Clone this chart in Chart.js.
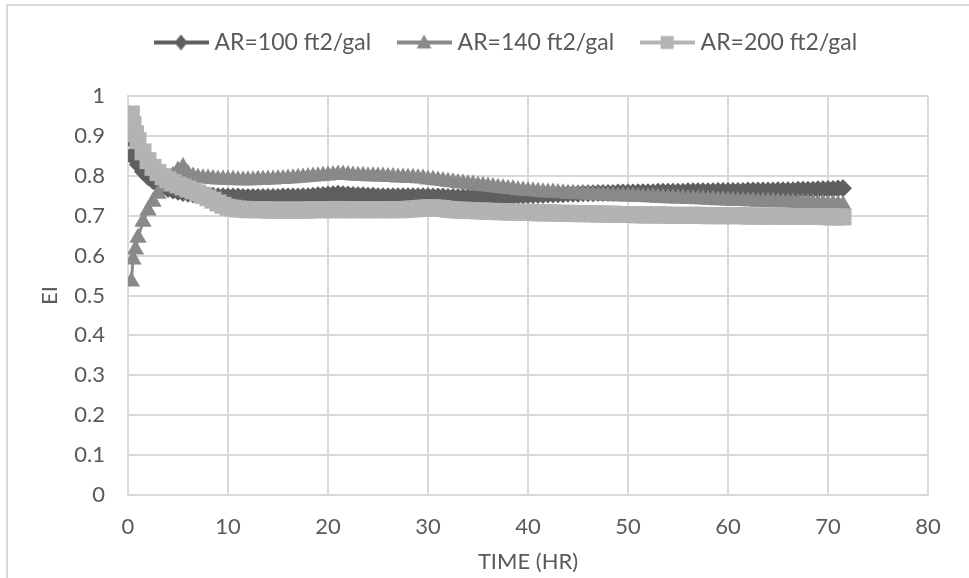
<!DOCTYPE html>
<html>
<head>
<meta charset="utf-8">
<script src="https://cdn.jsdelivr.net/npm/chart.js@4.4.1/dist/chart.umd.min.js"></script>
<style>
  html, body { margin: 0; padding: 0; background: #fff; }
  #wrap { position: relative; width: 969px; height: 578px; overflow: hidden; }
  #frame { position: absolute; left: 6px; top: 4px; width: 1000px; height: 1000px;
           border-left: 2px solid #d9d9d9; border-top: 2px solid #d9d9d9; }
  #box { position: absolute; left: 0; top: 0; width: 969px; height: 578px; }
</style>
</head>
<body>
<div id="wrap">
  <div id="frame"></div>
  <div id="box"><canvas id="ei_chart"></canvas></div>
</div>
<script>
// time in hours (x values shared by the three runs)
var hours = [0.33, 0.5, 0.75,
  1, 1.5, 2, 2.5, 3, 3.5, 4, 4.5, 5, 5.5,
  6, 6.5, 7, 7.5, 8, 8.5, 9, 9.5, 10, 10.5,
  11, 11.5, 12, 12.5, 13, 13.5, 14, 14.5, 15, 15.5,
  16, 16.5, 17, 17.5, 18, 18.5, 19, 19.5, 20, 20.5,
  21, 21.5, 22, 22.5, 23, 23.5, 24, 24.5, 25, 25.5,
  26, 26.5, 27, 27.5, 28, 28.5, 29, 29.5, 30, 30.5,
  31, 31.5, 32, 32.5, 33, 33.5, 34, 34.5, 35, 35.5,
  36, 36.5, 37, 37.5, 38, 38.5, 39, 39.5, 40, 40.5,
  41, 41.5, 42, 42.5, 43, 43.5, 44, 44.5, 45, 45.5,
  46, 46.5, 47, 47.5, 48, 48.5, 49, 49.5, 50, 50.5,
  51, 51.5, 52, 52.5, 53, 53.5, 54, 54.5, 55, 55.5,
  56, 56.5, 57, 57.5, 58, 58.5, 59, 59.5, 60, 60.5,
  61, 61.5, 62, 62.5, 63, 63.5, 64, 64.5, 65, 65.5,
  66, 66.5, 67, 67.5, 68, 68.5, 69, 69.5, 70, 70.5,
  71, 71.5];

var ar100 = [0.89, 0.855, 0.84,
  0.828, 0.81, 0.797, 0.787, 0.778, 0.772, 0.767, 0.763, 0.76, 0.757,
  0.755, 0.754, 0.752, 0.751, 0.75, 0.75, 0.749, 0.749, 0.748, 0.748,
  0.748, 0.747, 0.747, 0.747, 0.747, 0.747, 0.747, 0.747, 0.747, 0.748,
  0.748, 0.748, 0.748, 0.749, 0.749, 0.75, 0.751, 0.752, 0.753, 0.754,
  0.755, 0.754, 0.753, 0.752, 0.751, 0.751, 0.75, 0.75, 0.749, 0.749,
  0.749, 0.749, 0.749, 0.749, 0.749, 0.749, 0.749, 0.749, 0.749, 0.748,
  0.748, 0.748, 0.747, 0.747, 0.746, 0.746, 0.746, 0.746, 0.746, 0.746,
  0.747, 0.747, 0.748, 0.748, 0.749, 0.749, 0.75, 0.75, 0.751, 0.751,
  0.752, 0.752, 0.753, 0.753, 0.754, 0.754, 0.755, 0.755, 0.755, 0.756,
  0.756, 0.756, 0.757, 0.757, 0.757, 0.757, 0.758, 0.758, 0.758, 0.758,
  0.759, 0.759, 0.759, 0.759, 0.76, 0.76, 0.76, 0.76, 0.76, 0.76,
  0.761, 0.761, 0.761, 0.761, 0.761, 0.761, 0.762, 0.762, 0.762, 0.762,
  0.762, 0.762, 0.763, 0.763, 0.763, 0.763, 0.763, 0.763, 0.764, 0.764,
  0.764, 0.764, 0.765, 0.765, 0.765, 0.765, 0.766, 0.766, 0.767, 0.767,
  0.768, 0.769];

var ar140 = [0.535, 0.59, 0.615,
  0.645, 0.685, 0.713, 0.735, 0.755, 0.772, 0.787, 0.8, 0.813, 0.822,
  0.805, 0.798, 0.795, 0.794, 0.793, 0.792, 0.791, 0.791, 0.79, 0.79,
  0.789, 0.789, 0.789, 0.789, 0.79, 0.79, 0.791, 0.791, 0.792, 0.792,
  0.793, 0.794, 0.795, 0.796, 0.797, 0.798, 0.799, 0.8, 0.801, 0.802,
  0.803, 0.803, 0.802, 0.801, 0.8, 0.8, 0.799, 0.799, 0.798, 0.798,
  0.797, 0.797, 0.796, 0.796, 0.795, 0.795, 0.794, 0.793, 0.791, 0.79,
  0.788, 0.787, 0.785, 0.784, 0.782, 0.781, 0.779, 0.778, 0.776, 0.775,
  0.773, 0.772, 0.77, 0.769, 0.767, 0.766, 0.764, 0.763, 0.762, 0.761,
  0.76, 0.759, 0.758, 0.758, 0.757, 0.756, 0.755, 0.755, 0.754, 0.754,
  0.753, 0.752, 0.751, 0.751, 0.75, 0.75, 0.749, 0.749, 0.748, 0.748,
  0.747, 0.747, 0.746, 0.746, 0.745, 0.745, 0.744, 0.744, 0.743, 0.743,
  0.742, 0.742, 0.741, 0.741, 0.74, 0.74, 0.739, 0.739, 0.738, 0.738,
  0.737, 0.737, 0.736, 0.736, 0.735, 0.735, 0.735, 0.735, 0.734, 0.734,
  0.733, 0.733, 0.732, 0.732, 0.731, 0.731, 0.73, 0.73, 0.729, 0.729,
  0.728, 0.727];

var ar200 = [0.955, 0.928, 0.905,
  0.888, 0.86, 0.838, 0.821, 0.808, 0.798, 0.79, 0.783, 0.777, 0.772,
  0.767, 0.762, 0.757, 0.751, 0.745, 0.739, 0.732, 0.726, 0.721, 0.719,
  0.717, 0.716, 0.715, 0.715, 0.715, 0.715, 0.714, 0.714, 0.714, 0.714,
  0.714, 0.714, 0.714, 0.714, 0.714, 0.715, 0.715, 0.715, 0.715, 0.715,
  0.715, 0.715, 0.715, 0.715, 0.715, 0.715, 0.715, 0.715, 0.715, 0.715,
  0.715, 0.715, 0.715, 0.715, 0.716, 0.717, 0.718, 0.719, 0.72, 0.72,
  0.719, 0.718, 0.716, 0.715, 0.714, 0.714, 0.713, 0.713, 0.712, 0.712,
  0.711, 0.711, 0.71, 0.71, 0.709, 0.709, 0.709, 0.709, 0.708, 0.708,
  0.707, 0.707, 0.707, 0.707, 0.706, 0.706, 0.706, 0.706, 0.705, 0.705,
  0.705, 0.705, 0.704, 0.704, 0.704, 0.704, 0.703, 0.703, 0.703, 0.703,
  0.702, 0.702, 0.702, 0.702, 0.702, 0.702, 0.701, 0.701, 0.701, 0.701,
  0.701, 0.701, 0.701, 0.701, 0.7, 0.7, 0.7, 0.7, 0.7, 0.7,
  0.7, 0.7, 0.699, 0.699, 0.699, 0.699, 0.699, 0.699, 0.699, 0.699,
  0.698, 0.698, 0.698, 0.698, 0.698, 0.698, 0.698, 0.698, 0.697, 0.697,
  0.697, 0.697];

var seriesNames = ['AR=100 ft2/gal', 'AR=140 ft2/gal', 'AR=200 ft2/gal'];
var xTicks = [0, 10, 20, 30, 40, 50, 60, 70, 80];
var yTicks = [0, 0.1, 0.2, 0.3, 0.4, 0.5, 0.6, 0.7, 0.8, 0.9, 1];

var FONT = 'Lato';
var TEXT = '#595959';
var GRID = '#d9d9d9';

function toPoints(ys) {
  return hours.map(function (h, i) { return { x: h, y: ys[i] }; });
}

// excel style legend key: a short line with the marker in the middle
function legendKey(color, shape) {
  var c = document.createElement('canvas');
  c.width = 55; c.height = 20;
  var g = c.getContext('2d');
  g.strokeStyle = color; g.fillStyle = color; g.lineWidth = 4;
  g.beginPath(); g.moveTo(0, 10); g.lineTo(55, 10); g.stroke();
  g.beginPath();
  if (shape === 'diamond') {
    g.moveTo(27.5, 2); g.lineTo(34, 10); g.lineTo(27.5, 18); g.lineTo(21, 10);
  } else if (shape === 'triangle') {
    g.moveTo(27.5, 2); g.lineTo(35, 16); g.lineTo(20, 16);
  } else {
    g.rect(21, 3.5, 13, 13);
  }
  g.closePath(); g.fill();
  return c;
}

// extra space under the legend, like the excel layout
var legendGap = {
  id: 'legendGap',
  beforeInit: function (chart) {
    var fit = chart.legend.fit;
    chart.legend.fit = function () {
      fit.call(this);
      this.height += 32;
    };
  }
};

var ctx = document.getElementById('ei_chart').getContext('2d');
var chart = new Chart(ctx, {
  type: 'scatter',
  data: {
    datasets: [{
      label: seriesNames[0],
      data: toPoints(ar100),
      showLine: true,
      borderColor: '#5f5f5f',
      backgroundColor: '#5f5f5f',
      borderWidth: 3,
      pointStyle: 'rectRot',
      pointRadius: 9,
      pointBorderWidth: 0,
      legendKey: legendKey('#5f5f5f', 'diamond'),
      order: 3
    }, {
      label: seriesNames[1],
      data: toPoints(ar140),
      showLine: true,
      borderColor: '#898989',
      backgroundColor: '#898989',
      borderWidth: 3,
      pointStyle: 'triangle',
      pointRadius: 10,
      pointBorderWidth: 0,
      legendKey: legendKey('#898989', 'triangle'),
      order: 2
    }, {
      label: seriesNames[2],
      data: toPoints(ar200),
      showLine: true,
      borderColor: '#b3b3b3',
      backgroundColor: '#b3b3b3',
      borderWidth: 3,
      pointStyle: 'rect',
      pointRadius: 12,
      pointBorderWidth: 0,
      legendKey: legendKey('#b3b3b3', 'square'),
      order: 1
    }]
  },
  options: {
    responsive: true,
    maintainAspectRatio: false,
    animation: false,
    layout: { padding: { top: 0, left: 0, right: 41, bottom: 0 } },
    plugins: {
      tooltip: { enabled: false },
      legend: {
        position: 'top',
        align: 'start',
        fullSize: false,
        labels: {
          usePointStyle: true,
          pointStyleWidth: 44,
          padding: 31,
          color: TEXT,
          font: { family: FONT, size: 23 },
          sort: function (a, b) { return a.datasetIndex - b.datasetIndex; },
          generateLabels: function (chart) {
            var items = Chart.defaults.plugins.legend.labels.generateLabels(chart);
            items.forEach(function (it) {
              it.pointStyle = chart.data.datasets[it.datasetIndex].legendKey;
            });
            return items;
          }
        }
      }
    },
    scales: {
      x: {
        type: 'linear',
        min: 0,
        max: 80,
        afterBuildTicks: function (scale) {
          scale.ticks = xTicks.map(function (v) { return { value: v }; });
        },
        afterFit: function (scale) { scale.height = 83; },
        grid: { color: GRID, lineWidth: 2, drawTicks: false },
        border: { color: GRID, width: 2 },
        ticks: { color: TEXT, padding: 19, font: { family: FONT, size: 22 } },
        title: { display: true, text: 'TIME (HR)', color: TEXT, padding: { top: 0, bottom: 3 },
                 font: { family: FONT, size: 22 } }
      },
      y: {
        type: 'linear',
        min: 0,
        max: 1,
        afterBuildTicks: function (scale) {
          scale.ticks = yTicks.map(function (v) { return { value: v }; });
        },
        afterFit: function (scale) { scale.width = 128; },
        grid: { color: GRID, lineWidth: 2, drawTicks: false },
        border: { color: GRID, width: 2 },
        ticks: {
          color: TEXT, padding: 23, font: { family: FONT, size: 22 },
          callback: function (v) { return String(v); }
        },
        title: { display: true, text: 'EI', color: TEXT, padding: { top: 37, bottom: 0 },
                 font: { family: FONT, size: 22 } }
      }
    }
  },
  plugins: [legendGap]
});
</script>
</body>
</html>
